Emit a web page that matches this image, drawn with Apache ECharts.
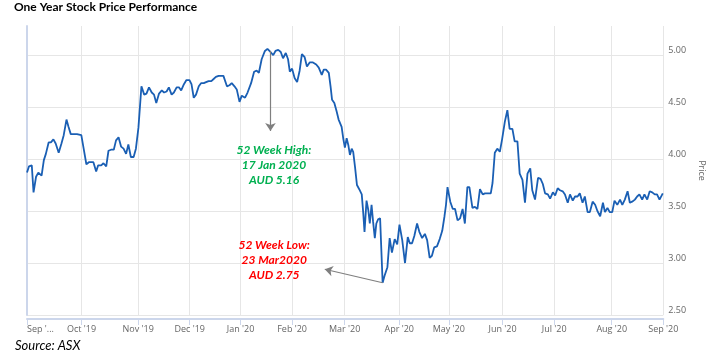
<!DOCTYPE html>
<html><head><meta charset="utf-8">
<script src="https://cdn.jsdelivr.net/npm/echarts@6/dist/echarts.min.js"></script>
<style>html,body{margin:0;padding:0;background:#fff}#c{width:714px;height:359px}</style>
</head><body><div id="c"></div>
<script>
// x = trading-day index since start of Sep 2019
const tradingDay = [0,0.8,1.9,2.6,3.6,4.5,5.1,5.8,6.7,7.5,8.6,9.5,10.5,11.4,12.6,13.7,14.6,15.7,16.5,17.4,18.3,19.9,21.6,22.6,23.6,24.6,25.5,26.4,27.5,28.3,29.5,30.4,31.5,32.4,33.4,34.5,35.4,36.4,37.4,38.4,39.4,40.3,41.3,42.4,43.3,44.3,45.5,46.6,47.5,48.5,49.6,50.5,51.4,52.5,53.6,54.5,55.5,56.4,57.5,58.4,59.5,60.4,61.3,62.4,63.4,64.6,65.4,66.3,67.2,68.3,69.2,70.3,71.2,72.2,73.3,74.2,75.1,76.2,77.2,78.1,79.5,80.5,81.4,82.5,83.4,84.5,85.4,86.7,87.7,89.1,90.3,91.3,92.2,93.3,94.6,95.6,96.8,97.9,98.8,99.9,100.9,101.8,102.9,103.8,104.5,105.4,106.4,107.4,108.4,109.3,110.4,111.3,112.4,113.7,115.0,116.0,117.2,118.0,118.9,120.0,120.7,121.3,122.2,123.1,123.9,125.1,125.8,126.4,127.1,127.8,128.4,129.1,129.7,130.4,131.2,132.1,133.1,133.7,134.2,135.0,135.7,136.3,137.0,137.6,138.3,138.9,139.6,140.4,141.4,142.2,143.3,144.2,145.1,146.2,147.2,148.1,149.2,150.3,151.4,152.2,153.1,154.0,155.1,156.0,157.1,158.2,159.1,160.1,161.0,161.9,163.0,164.1,165.1,166.0,166.6,167.2,168.3,169.3,170.2,171.2,172.2,173.2,174.1,175.1,175.9,177.1,178.1,179.1,180.1,181.2,182.1,183.4,184.4,185.1,186.0,187.0,188.0,188.9,190.0,191.0,191.9,193.0,193.9,195.0,195.9,197.0,198.0,199.0,200.1,200.9,202.0,203.2,204.2,205.1,206.0,207.1,208.0,209.1,210.0,211.0,211.9,213.0,213.9,215.0,215.9,217.0,217.9,218.9,219.8,220.9,221.8,222.9,223.8,224.9,225.9,226.8,227.9,229.0,229.8,230.8,231.7,232.7,233.6,234.7,235.8,236.7,237.7,238.8,239.7,240.6,241.7,242.6,243.5,244.6,245.5,246.6,247.6,248.6,249.6,250.5,251.5,252.8];
const price = [3.87,3.93,3.94,3.68,3.83,3.87,3.86,3.84,3.99,4.05,4.16,4.16,4.19,4.15,4.06,4.15,4.23,4.38,4.31,4.24,4.24,4.24,4.23,4.09,3.95,3.97,3.97,3.97,3.88,3.94,3.94,3.96,3.93,4.08,4.09,4.09,4.18,4.21,4.12,4.10,4.05,4.14,4.02,4.02,4.10,4.30,4.70,4.62,4.63,4.69,4.64,4.62,4.54,4.63,4.66,4.64,4.65,4.69,4.62,4.64,4.69,4.69,4.66,4.72,4.76,4.76,4.72,4.59,4.62,4.70,4.73,4.73,4.74,4.75,4.75,4.77,4.79,4.80,4.80,4.80,4.70,4.71,4.73,4.70,4.67,4.55,4.61,4.59,4.64,4.73,4.84,4.85,4.83,4.96,5.04,5.06,5.03,5.00,5.04,5.05,5.03,4.97,5.02,4.96,4.84,4.87,4.78,4.74,4.85,5.01,4.98,4.89,4.93,4.93,4.91,4.88,4.81,4.86,4.86,4.83,4.70,4.57,4.54,4.46,4.38,4.31,4.19,4.11,4.20,4.13,4.04,4.10,4.07,3.93,3.75,3.71,3.66,3.48,3.30,3.60,3.51,3.38,3.56,3.40,3.24,3.38,3.42,3.43,2.81,2.88,2.96,3.24,3.10,3.23,3.18,3.37,3.22,3.00,3.25,3.19,3.19,3.26,3.38,3.30,3.24,3.28,3.22,3.05,3.07,3.15,3.16,3.23,3.31,3.45,3.56,3.73,3.59,3.52,3.52,3.41,3.43,3.52,3.38,3.73,3.73,3.53,3.54,3.52,3.71,3.66,3.67,3.67,3.67,3.77,4.06,4.10,4.07,4.19,4.36,4.47,4.29,4.29,4.17,4.17,3.86,3.80,3.58,3.86,3.91,3.70,3.61,3.82,3.81,3.76,3.67,3.66,3.62,3.68,3.65,3.72,3.70,3.69,3.66,3.58,3.66,3.60,3.64,3.64,3.67,3.58,3.64,3.49,3.49,3.59,3.56,3.50,3.45,3.58,3.49,3.53,3.49,3.49,3.60,3.56,3.61,3.56,3.61,3.69,3.58,3.59,3.61,3.64,3.66,3.61,3.66,3.61,3.69,3.68,3.66,3.66,3.61,3.67];
const monthTicks = [0, 21.7, 44.2, 64.7, 84.9, 105.4, 126.3, 148.0, 167.7, 189.1, 209.6, 232.5, 253];
const monthLabels = ["Sep '...", "Oct '19", "Nov '19", "Dec '19", "Jan '20", "Feb '20", "Mar '20", "Apr '20", "May '20", "Jun '20", "Jul '20", "Aug '20", "Sep '20"];
const yTicks = {min: 2.5, max: 5.28, interval: 0.5};
const highNote = {day: 96.8, top: 5.04, arrowEnd: 4.27, textDay: 98.2, textPrice: 3.945, text: '52 Week High:\n17 Jan 2020\nAUD 5.16'};
const lowNote = {day: 141.4, low: 2.81, arrowDay: 118.4, arrowPrice: 2.94, textDay: 98.3, textPrice: 3.03, text: '52 Week Low:\n23 Mar2020\nAUD 2.75'};

const data = tradingDay.map((d, i) => [d, price[i]]);
function monthLabel(v) {
  let best = 0;
  for (let i = 0; i < monthTicks.length; i++) if (Math.abs(monthTicks[i] - v) < Math.abs(monthTicks[best] - v)) best = i;
  return monthLabels[best];
}
const chart = echarts.init(document.getElementById('c'), null, {renderer: 'canvas'});
chart.setOption({
  animation: false,
  graphic: [
    {type: 'text', left: 14, top: 1,
     style: {text: 'One Year Stock Price Performance', font: 'bold 12px Lato', fill: '#000'}},
    {type: 'text', left: 15, top: 339,
     style: {text: 'Source: ASX', font: 'italic 13px Lato', fill: '#000'}}
  ],
  grid: {left: 27, right: 46, top: 26, bottom: 44},
  xAxis: {
    type: 'value', min: 0, max: 253, offset: 4,
    axisLine: {show: true, lineStyle: {color: '#ccd6eb', width: 2}},
    axisTick: {show: true, customValues: monthTicks, length: 6, lineStyle: {color: '#ccd6eb'}},
    axisLabel: {customValues: monthTicks, formatter: monthLabel, fontFamily: 'Open Sans', fontSize: 9, color: '#666', margin: 6, alignMinLabel: 'left', showMinLabel: true, showMaxLabel: true, overflow: 'none'},
    splitLine: {show: true, lineStyle: {color: '#e6e6e6'}}
  },
  yAxis: {
    type: 'value', position: 'right', min: yTicks.min, max: yTicks.max, interval: yTicks.interval,
    name: 'Price', nameLocation: 'middle', nameRotate: -90, nameGap: 30,
    nameTextStyle: {color: '#666', fontSize: 9, fontFamily: 'Open Sans'},
    axisLine: {show: true, lineStyle: {color: '#ccd6eb', width: 2}},
    axisTick: {show: false},
    axisLabel: {formatter: v => v.toFixed(2), showMaxLabel: false, color: '#666', fontSize: 9, fontFamily: 'Open Sans', margin: 5, verticalAlign: 'bottom'},
    splitLine: {show: true, showMaxLine: false, lineStyle: {color: '#e6e6e6'}}
  },
  series: [{
    type: 'line', data: data, symbol: 'none', lineStyle: {color: '#1a5fb4', width: 1.8},
    markLine: {
      silent: true, symbol: ['none', 'arrow'], symbolSize: 8, label: {show: false},
      lineStyle: {color: '#7f7f7f', width: 1.2, type: 'solid'},
      data: [
        [{coord: [highNote.day, highNote.top]}, {coord: [highNote.day, highNote.arrowEnd]}],
        [{coord: [lowNote.day, lowNote.low]}, {coord: [lowNote.arrowDay, lowNote.arrowPrice]}]
      ]
    },
    markPoint: {
      silent: true, symbol: 'circle', symbolSize: 0,
      label: {show: true, position: 'inside', fontFamily: 'Lato', fontStyle: 'italic', fontWeight: 'bold', fontSize: 12, lineHeight: 15, align: 'center', verticalAlign: 'middle'},
      data: [
        {coord: [highNote.textDay, highNote.textPrice], label: {formatter: highNote.text, color: '#00b050'}},
        {coord: [lowNote.textDay, lowNote.textPrice], label: {formatter: lowNote.text, color: '#ff0000'}}
      ]
    }
  }]
});
</script></body></html>
